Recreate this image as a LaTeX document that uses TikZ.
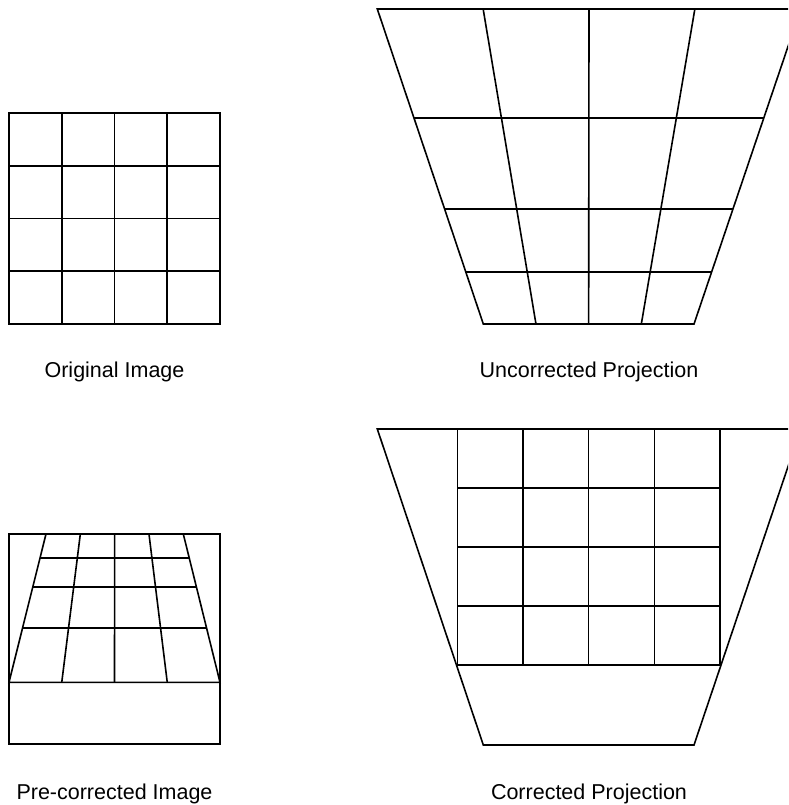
\documentclass[tikz,border=0pt]{standalone}
\usepackage{fontspec}
\setmainfont{Liberation Sans}
\usetikzlibrary{calc}

\begin{document}
\begin{tikzpicture}[x=1pt, y=-1pt,
  % every grid and outline line
  gridline/.style={line width=1.6pt, draw=black},
  % the caption under each panel
  caption/.style={anchor=base, inner sep=0pt, font=\fontsize{21.5}{26}\selectfont}
]
\useasboundingbox (0,0) rectangle (788,805);
\clip (0,0) rectangle (788,805);

% Original Image: plain 4x4 grid
\coordinate (oTL) at (9,113);
\coordinate (oTR) at (220,113);
\coordinate (oBL) at (9,324);
\coordinate (oBR) at (220,324);
\draw[gridline] (oTL) -- (oTR) -- (oBR) -- (oBL) -- cycle;
\foreach \t in {0.25,0.5,0.75} {
  \draw[gridline] ($(oTL)!\t!(oTR)$) -- ($(oBL)!\t!(oBR)$);
  \draw[gridline] ($(oTL)!\t!(oBL)$) -- ($(oTR)!\t!(oBR)$);
}

% Uncorrected Projection: keystoned grid (right side runs off the page)
\coordinate (uTL) at (377.3,9);
\coordinate (uTR) at (800.7,9);
\coordinate (uBL) at (483.3,324);
\coordinate (uBR) at (694,324);
\draw[gridline] (uTL) -- (uTR) -- (uBR) -- (uBL) -- cycle;
\foreach \t in {0.25,0.5,0.75}
  \draw[gridline] ($(uTL)!\t!(uTR)$) -- ($(uBL)!\t!(uBR)$);
\foreach \t in {0.346,0.634,0.834}
  \draw[gridline] ($(uTL)!\t!(uBL)$) -- ($(uTR)!\t!(uBR)$);

% Pre-corrected Image: frame with inverse keystone inside
\coordinate (fTL) at (9,534);
\coordinate (fBR) at (220,744);
\draw[gridline] (fTL) rectangle (fBR);
\coordinate (pTL) at (46,534);
\coordinate (pTR) at (183.3,534);
\coordinate (pBL) at (9,682.3);
\coordinate (pBR) at (220,682.3);
\draw[gridline] (pTL) -- (pTR) -- (pBR) -- (pBL) -- cycle;
\foreach \t in {0.25,0.5,0.75}
  \draw[gridline] ($(pTL)!\t!(pTR)$) -- ($(pBL)!\t!(pBR)$);
\foreach \t in {0.162,0.358,0.633}
  \draw[gridline] ($(pTL)!\t!(pBL)$) -- ($(pTR)!\t!(pBR)$);

% Corrected Projection: keystone outline with a square grid inside
\coordinate (cTL) at (377.3,429);
\coordinate (cTR) at (800.7,429);
\coordinate (cBL) at (483.3,745);
\coordinate (cBR) at (694,745);
\draw[gridline] (cTL) -- (cTR) -- (cBR) -- (cBL) -- cycle;
\coordinate (gTL) at (457.3,429);
\coordinate (gTR) at (720,429);
\coordinate (gBL) at (457.3,665);
\coordinate (gBR) at (720,665);
\draw[gridline] (gTL) -- (gTR) -- (gBR) -- (gBL) -- cycle;
\foreach \t in {0.25,0.5,0.75} {
  \draw[gridline] ($(gTL)!\t!(gTR)$) -- ($(gBL)!\t!(gBR)$);
  \draw[gridline] ($(gTL)!\t!(gBL)$) -- ($(gTR)!\t!(gBR)$);
}

% captions
\node[caption] (origcap)   at (114.5,377.5) {Original Image};
\node[caption] (uncorrcap) at (589,377.5)   {Uncorrected Projection};
\node[caption] (precap)    at (114.5,799)   {Pre-corrected Image};
\node[caption] (corrcap)   at (589,799)     {Corrected Projection};

\end{tikzpicture}
\end{document}
